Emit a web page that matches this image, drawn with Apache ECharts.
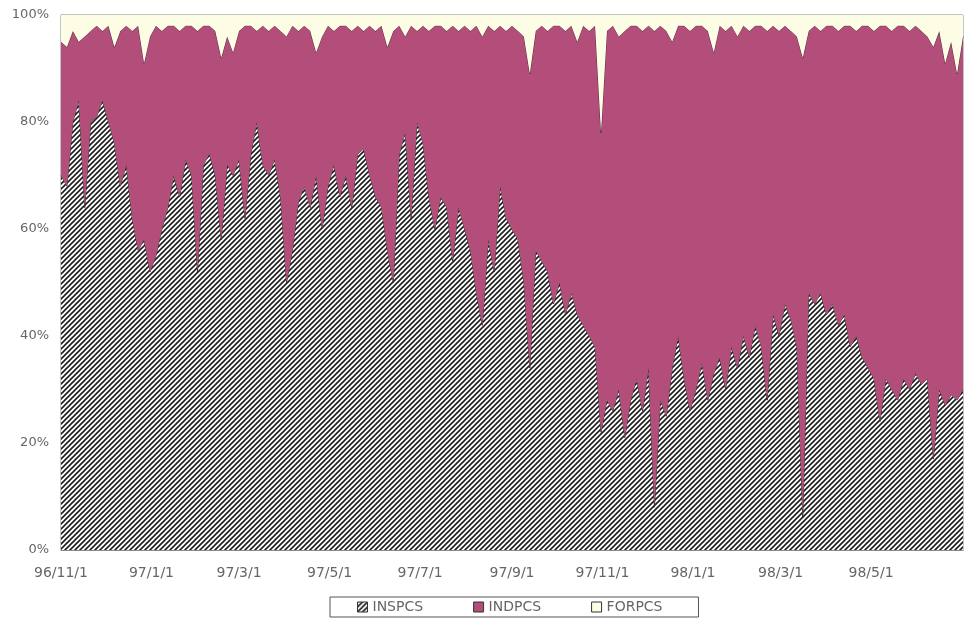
<!DOCTYPE html>
<html>
<head>
<meta charset="utf-8">
<script src="https://cdn.jsdelivr.net/npm/echarts@6/dist/echarts.min.js"></script>
<style>
html,body{margin:0;padding:0;background:#fff;}
#chart{width:965px;height:619px;}
</style>
</head>
<body>
<div id="chart"></div>
<script>
// Sampling: one value every 4 calendar days starting 1996/11/1 (day 0)
const startDate = [1996, 10, 1];
const dayStep = 4;
const lastDay = 608;

// Tick positions (days since 96/11/1) and their labels
const tickDays = [0, 61, 120, 181, 242, 304, 365, 426, 485, 546];
const tickLabels = ['96/11/1', '97/1/1', '97/3/1', '97/5/1', '97/7/1', '97/9/1', '97/11/1', '98/1/1', '98/3/1', '98/5/1'];

const seriesNames = ['INSPCS', 'INDPCS', 'FORPCS'];

const INSPCS = [
  70,68,80,84,64,80,81,84,80,76,
  68,72,62,56,58,52,55,60,64,70,
  66,73,70,52,72,74,70,58,72,70,
  73,62,74,80,72,70,73,66,50,56,
  65,68,64,70,60,68,72,66,70,64,
  74,75,70,66,64,56,50,74,78,62,
  80,76,66,60,66,64,54,64,60,56,
  48,42,58,52,68,62,60,58,50,34,
  56,54,52,46,50,44,48,44,42,40,
  38,22,28,26,30,21,28,32,26,34,
  8,28,25,34,40,32,26,30,35,28,
  33,36,30,38,34,40,36,42,38,28,
  44,40,46,43,38,6,48,46,48,44,
  46,42,44,38,40,36,34,32,24,32,
  30,28,32,30,33,31,32,17,30,27,
  29,28,30
];
const INDPCS = [
  25,26,17,11,32,17,17,13,18,18,
  29,26,35,42,33,44,43,37,34,28,
  31,25,28,45,26,24,27,34,24,23,
  24,36,24,17,26,27,25,31,46,42,
  32,30,33,23,36,30,25,32,28,33,
  24,22,28,31,34,38,47,24,18,36,
  17,22,31,38,32,33,44,33,38,41,
  50,54,40,45,30,35,38,39,46,55,
  41,44,45,52,48,53,50,51,56,57,
  60,56,69,72,66,76,70,66,71,64,
  89,70,72,61,58,66,71,68,63,69,
  60,62,67,60,62,58,61,56,60,69,
  54,57,52,54,58,86,49,52,49,54,
  52,55,54,60,57,62,64,65,74,66,
  67,70,66,67,65,66,64,77,67,64,
  66,61,66
];
const FORPCS = [
  5,6,3,5,4,3,2,3,2,6,
  3,2,3,2,9,4,2,3,2,2,
  3,2,2,3,2,2,3,8,4,7,
  3,2,2,3,2,3,2,3,4,2,
  3,2,3,7,4,2,3,2,2,3,
  2,3,2,3,2,6,3,2,4,2,
  3,2,3,2,2,3,2,3,2,3,
  2,4,2,3,2,3,2,3,4,11,
  3,2,3,2,2,3,2,5,2,3,
  2,22,3,2,4,3,2,2,3,2,
  3,2,3,5,2,2,3,2,2,3,
  7,2,3,2,4,2,3,2,2,3,
  2,3,2,3,4,8,3,2,3,2,
  2,3,2,2,3,2,2,3,2,2,
  3,2,2,3,2,3,4,6,3,9,
  5,11,4
];

// hatch pattern for INSPCS
function makeHatch() {
  const c = document.createElement('canvas');
  const s = 5;
  c.width = s; c.height = s;
  const g = c.getContext('2d');
  g.fillStyle = '#ffffff';
  g.fillRect(0, 0, s, s);
  g.strokeStyle = '#1e1e1e';
  g.lineWidth = 1.6;
  g.beginPath();
  g.moveTo(-1, s + 1); g.lineTo(s + 1, -1);
  g.moveTo(-1, 1); g.lineTo(1, -1);
  g.moveTo(s - 1, s + 1); g.lineTo(s + 1, s - 1);
  g.stroke();
  return c;
}
const hatch = { image: makeHatch(), repeat: 'repeat' };

const DAY = 86400000;
const t0 = Date.UTC(startDate[0], startDate[1], startDate[2]);

// 100% stacking: normalise each day's shares to the total
const raw = [INSPCS, INDPCS, FORPCS];
function pctSeries(k) {
  return raw[k].map(function (v, i) {
    const tot = INSPCS[i] + INDPCS[i] + FORPCS[i];
    return [t0 + i * dayStep * DAY, v / tot * 100];
  });
}

const fills = [hatch, '#B24E79', '#FDFDE6'];
const edges = ['#1a1a1a', '#3a1a28', '#555'];
const txt = { color: '#666', fontFamily: 'DejaVu Sans', fontSize: 14 };

const chart = echarts.init(document.getElementById('chart'), null, { renderer: 'canvas' });
chart.setOption({
  animation: false,
  backgroundColor: '#ffffff',
  grid: { left: 61, right: 2, top: 15, bottom: 69, show: true, borderColor: '#8a8a8a', borderWidth: 1, backgroundColor: 'transparent' },
  xAxis: [{
    type: 'time', min: t0, max: t0 + lastDay * DAY,
    axisLine: { show: false }, axisTick: { show: false },
    splitLine: { show: false }, axisLabel: { show: false }
  }, {
    type: 'value', min: 0, max: lastDay, position: 'bottom',
    axisLine: { show: true, lineStyle: { color: '#8a8a8a' } },
    axisTick: { show: false },
    splitLine: { show: false },
    axisLabel: Object.assign({
      customValues: tickDays,
      margin: 16,
      formatter: function (v) {
        const idx = tickDays.indexOf(Math.round(v));
        return idx >= 0 ? tickLabels[idx] : '';
      }
    }, txt)
  }],
  yAxis: {
    type: 'value', min: 0, max: 100, interval: 20,
    axisLine: { show: true, lineStyle: { color: '#8a8a8a' } },
    axisTick: { show: false },
    splitLine: { show: false },
    axisLabel: Object.assign({ formatter: '{value}%', margin: 12 }, txt, { fontSize: 13 })
  },
  legend: {
    left: 330, top: 597,
    itemWidth: 10, itemHeight: 10, itemGap: 50,
    padding: [3, 36, 3, 27],
    borderColor: '#555', borderWidth: 1,
    icon: 'rect',
    textStyle: txt,
    data: seriesNames.map(function (n, k) {
      return { name: n, itemStyle: { color: fills[k], borderColor: '#333', borderWidth: 1 } };
    })
  },
  series: seriesNames.map(function (n, k) {
    return {
      name: n, type: 'line', stack: 'total', symbol: 'none', showSymbol: false,
      xAxisIndex: 0,
      data: pctSeries(k),
      lineStyle: { color: edges[k], width: k === 2 ? 0 : 0.8 },
      itemStyle: { color: fills[k] },
      areaStyle: { color: fills[k], opacity: 1 },
      z: 2 + k
    };
  })
});
</script>
</body>
</html>
